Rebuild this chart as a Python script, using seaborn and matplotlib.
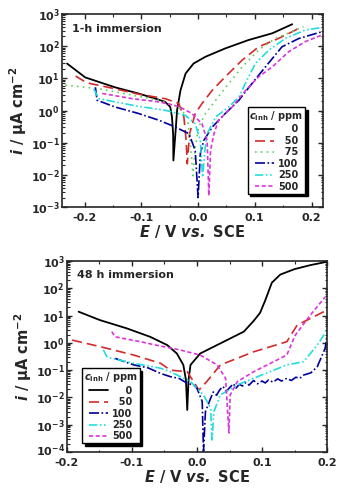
import numpy as np
import pandas as pd
import seaborn as sns
import matplotlib
matplotlib.use("Agg")
import matplotlib.pyplot as plt
from matplotlib.ticker import LogLocator, MultipleLocator, NullFormatter
from matplotlib.transforms import ScaledTranslation

# ==========================
# DATA (E in V vs SCE, log10 of i in uA cm-2)
# ==========================
conc_1h = ["0", "50", "75", "100", "250", "500"]
conc_48h = ["0", "50", "100", "250", "500"]

# 1-h immersion
E_1h_0 = [-0.231, -0.199, -0.146, -0.105, -0.075, -0.058, -0.049, -0.046, -0.044, -0.0435,
          -0.040, -0.037, -0.031, -0.022, -0.008, 0.013, 0.048, 0.089, 0.131, 0.166]
logi_1h_0 = [1.46, 1.03, 0.72, 0.53, 0.37, 0.27, 0.11, -0.20, -0.72, -1.55,
             -0.72, 0.01, 0.63, 1.15, 1.46, 1.67, 1.93, 2.19, 2.40, 2.68]
E_1h_50 = [-0.216, -0.196, -0.158, -0.105, -0.058, -0.034, -0.025, -0.021, -0.019,
           -0.015, -0.005, 0.007, 0.025, 0.048, 0.078, 0.107, 0.142, 0.172, 0.181]
logi_1h_50 = [1.07, 0.86, 0.72, 0.51, 0.37, 0.22, -0.20, -0.93, -1.65,
              -0.72, -0.09, 0.22, 0.63, 1.05, 1.57, 1.98, 2.24, 2.50, 2.60]
E_1h_75 = [-0.234, -0.175, -0.116, -0.069, -0.034, -0.019, -0.014, -0.009,
           -0.005, 0.001, 0.013, 0.031, 0.054, 0.078, 0.107, 0.136, 0.166, 0.186]
logi_1h_75 = [0.79, 0.68, 0.48, 0.32, 0.11, -0.20, -0.93, -2.02,
              -1.13, -0.51, -0.09, 0.32, 0.84, 1.36, 1.88, 2.24, 2.45, 2.61]
E_1h_100 = [-0.181, -0.178, -0.146, -0.105, -0.069, -0.040, -0.016, -0.005, 0.000,
            0.004, 0.010, 0.025, 0.048, 0.072, 0.095, 0.119, 0.148, 0.178, 0.219]
logi_1h_100 = [0.72, 0.32, 0.11, -0.09, -0.30, -0.51, -0.72, -1.24, -2.70,
               -1.34, -0.93, -0.51, -0.09, 0.32, 0.84, 1.36, 1.98, 2.24, 2.45]
E_1h_250 = [-0.184, -0.175, -0.146, -0.105, -0.058, -0.022, -0.005, 0.004, 0.008,
            0.012, 0.016, 0.031, 0.054, 0.072, 0.086, 0.101, 0.125, 0.154, 0.189, 0.219]
logi_1h_250 = [0.68, 0.37, 0.27, 0.13, 0.01, -0.15, -0.41, -0.93, -2.07,
               -1.24, -0.72, -0.20, 0.11, 0.42, 0.94, 1.46, 1.88, 2.24, 2.50, 2.58]
E_1h_500 = [-0.169, -0.116, -0.069, -0.034, -0.011, 0.007, 0.016, 0.019,
            0.022, 0.028, 0.036, 0.060, 0.084, 0.107, 0.131, 0.160, 0.189, 0.219]
logi_1h_500 = [0.53, 0.37, 0.27, 0.13, -0.09, -0.41, -0.93, -2.64,
               -1.24, -0.72, -0.30, 0.11, 0.63, 1.05, 1.36, 1.83, 2.14, 2.35]

# 48 h immersion
E_48h_0 = [-0.182, -0.149, -0.108, -0.072, -0.046, -0.031, -0.021, -0.017, -0.015,
           -0.013, -0.010, 0.005, 0.036, 0.072, 0.087, 0.097, 0.105, 0.115, 0.128, 0.150, 0.175, 0.200]
logi_48h_0 = [1.14, 0.83, 0.53, 0.22, -0.08, -0.39, -0.81, -1.36, -2.46,
              -1.36, -0.81, -0.39, -0.02, 0.41, 0.80, 1.10, 1.56, 2.20, 2.50, 2.70, 2.85, 2.97]
E_48h_50 = [-0.192, -0.149, -0.097, -0.056, -0.041, -0.015, 0.003,
            0.015, 0.036, 0.087, 0.138, 0.154, 0.200]
logi_48h_50 = [0.10, -0.14, -0.45, -0.75, -1.00, -1.06, -1.73,
               -1.42, -0.81, -0.33, 0.04, 0.65, 1.20]
E_48h_100 = [-0.126, -0.097, -0.075, -0.056, -0.041, -0.028, -0.015, -0.005, 0.000, 0.008, 0.010,
             0.013, 0.021, 0.025, 0.030, 0.035, 0.040, 0.045, 0.051, 0.056, 0.060, 0.065,
             0.070, 0.075, 0.080, 0.087, 0.093, 0.100, 0.105, 0.110, 0.117, 0.124, 0.130,
             0.138, 0.145, 0.152, 0.158, 0.164, 0.175, 0.185, 0.197, 0.200]
logi_48h_100 = [-0.57, -0.81, -0.92, -1.12, -1.24, -1.30, -1.48, -1.55, -1.67, -2.15, -3.98,
                -2.52, -2.03, -1.80, -1.92, -1.72, -1.60, -1.78, -1.62, -1.50, -1.66, -1.52,
                -1.58, -1.45, -1.55, -1.38, -1.50, -1.40, -1.47, -1.36, -1.44, -1.32, -1.40,
                -1.30, -1.38, -1.26, -1.30, -1.18, -1.10, -0.87, -0.20, 0.30]
E_48h_250 = [-0.144, -0.138, -0.097, -0.056, -0.041, -0.010, 0.010, 0.021, 0.023,
             0.026, 0.036, 0.062, 0.087, 0.138, 0.164, 0.185, 0.200]
logi_48h_250 = [-0.26, -0.53, -0.75, -0.93, -1.06, -1.42, -1.91, -2.40, -3.60,
                -2.52, -1.91, -1.54, -1.30, -0.81, -0.69, -0.08, 0.47]
E_48h_500 = [-0.131, -0.126, -0.087, -0.056, -0.026, 0.005, 0.031, 0.044, 0.049,
             0.051, 0.062, 0.087, 0.138, 0.151, 0.174, 0.197]
logi_48h_500 = [0.41, 0.22, 0.04, -0.12, -0.26, -0.45, -0.81, -1.30, -3.30,
                -1.91, -1.42, -1.06, -0.45, 0.28, 1.01, 1.68]

x_ticks = [-0.2, -0.1, 0.0, 0.1, 0.2]
x_ticklabels = ["-0.2", "-0.1", "0.0", "0.1", "0.2"]

# ==========================
# STYLE
# ==========================
sns.set_style("ticks")
plt.rcParams["font.family"] = ["DejaVu Sans"]
plt.rcParams["font.weight"] = "bold"
plt.rcParams["axes.unicode_minus"] = False
plt.rcParams["mathtext.default"] = "bf"

colors = {"0": "black", "50": "#d42a2a", "75": "#5fcf5f", "100": "#000099",
          "250": "#22dddd", "500": "#dd33dd"}
dashes = {"0": (None, None), "50": (6, 3), "75": (1, 2.5), "100": (6, 1.5, 1, 1.5),
          "250": (5, 1.5, 1, 1.5, 1, 1.5), "500": (2.5, 1.5)}

series_1h = {"0": (E_1h_0, logi_1h_0), "50": (E_1h_50, logi_1h_50),
             "75": (E_1h_75, logi_1h_75), "100": (E_1h_100, logi_1h_100),
             "250": (E_1h_250, logi_1h_250), "500": (E_1h_500, logi_1h_500)}
series_48h = {"0": (E_48h_0, logi_48h_0), "50": (E_48h_50, logi_48h_50),
              "100": (E_48h_100, logi_48h_100), "250": (E_48h_250, logi_48h_250),
              "500": (E_48h_500, logi_48h_500)}

fig = plt.figure(figsize=(3.54, 4.97), dpi=100)
ax1 = fig.add_axes([0.175, 0.583, 0.737, 0.389])
ax2 = fig.add_axes([0.189, 0.0905, 0.735, 0.3845])


def draw_panel(ax, series, order, xlim, ylim, note, leg_loc, leg_anchor):
    handles = []
    for c in order:
        E, logi = series[c]
        df = pd.DataFrame({"E": E, "i": np.power(10.0, logi)})
        sns.lineplot(data=df, x="E", y="i", ax=ax, sort=False, estimator=None,
                     color=colors[c], lw=1.3 if c == "0" else 1.2)
        line = ax.lines[-1]
        if c != "0":
            line.set_dashes(dashes[c])
        handles.append(line)
    ax.set_yscale("log")
    ax.set_xlim(*xlim)
    ax.set_ylim(*ylim)
    ax.set_xticks(x_ticks, x_ticklabels)
    ax.xaxis.set_minor_locator(MultipleLocator(0.05))
    ax.yaxis.set_major_locator(LogLocator(base=10, numticks=20))
    ax.yaxis.set_minor_locator(LogLocator(base=10, subs=np.arange(2, 10), numticks=20))
    ax.yaxis.set_minor_formatter(NullFormatter())
    ax.tick_params(which="both", direction="in", top=True, right=True, labelsize=8)
    ax.tick_params(axis="y", pad=1.5)
    ax.tick_params(axis="x", pad=4.5)
    ax.tick_params(which="major", length=3.5, width=1)
    ax.tick_params(which="minor", length=1.8, width=0.8)
    for s in ax.spines.values():
        s.set_linewidth(1.2)
    for t in ax.get_xticklabels() + ax.get_yticklabels():
        t.set_fontweight("bold")
    ax.text(0.04, 0.95, note, transform=ax.transAxes, fontsize=8, fontweight="bold",
            va="top", ha="left")
    ax.set_xlabel(r"$\mathbfit{E}$ / V $\mathbfit{vs.}$ SCE", fontsize=10.5,
                  fontweight="bold", labelpad=0)
    ax.set_ylabel(r"$\mathbfit{i}$ / μA cm$^{-2}$", fontsize=10.5,
                  fontweight="bold", labelpad=1)
    labels = ["\u2007" * (3 - len(c)) + c for c in order]
    leg = ax.legend(handles, labels, loc=leg_loc, bbox_to_anchor=leg_anchor,
                    title=r"$\mathbfit{c}_{\mathbf{inh}}$ / ppm", fontsize=7,
                    title_fontsize=7, frameon=True, fancybox=False,
                    shadow={"color": "black", "alpha": 1.0},
                    handlelength=2.0, handletextpad=0.4, labelspacing=0.15,
                    borderpad=0.2, borderaxespad=0.2)
    leg.get_frame().set_edgecolor("black")
    leg.get_frame().set_linewidth(1.0)
    leg.get_title().set_fontweight("bold")
    for t in leg.get_texts():
        t.set_fontweight("bold")


draw_panel(ax1, series_1h, conc_1h, (-0.24, 0.22), (1e-3, 1e3), "1-h immersion",
           "lower right", (0.94, 0.06))
draw_panel(ax2, series_48h, conc_48h, (-0.2, 0.2), (1e-4, 1e3), "48 h immersion",
           "lower left", (0.05, 0.035))

# nudge the lowest y label of the lower panel so it clears the "-0.2" label
fig.canvas.draw()
lowest = ax2.yaxis.get_major_ticks()
for tk in lowest:
    if np.isclose(tk.get_loc(), 1e-4):
        tk.label1.set_transform(tk.label1.get_transform()
                                + ScaledTranslation(0, 2 / 72, fig.dpi_scale_trans))

fig.savefig("out.png", dpi=100)
